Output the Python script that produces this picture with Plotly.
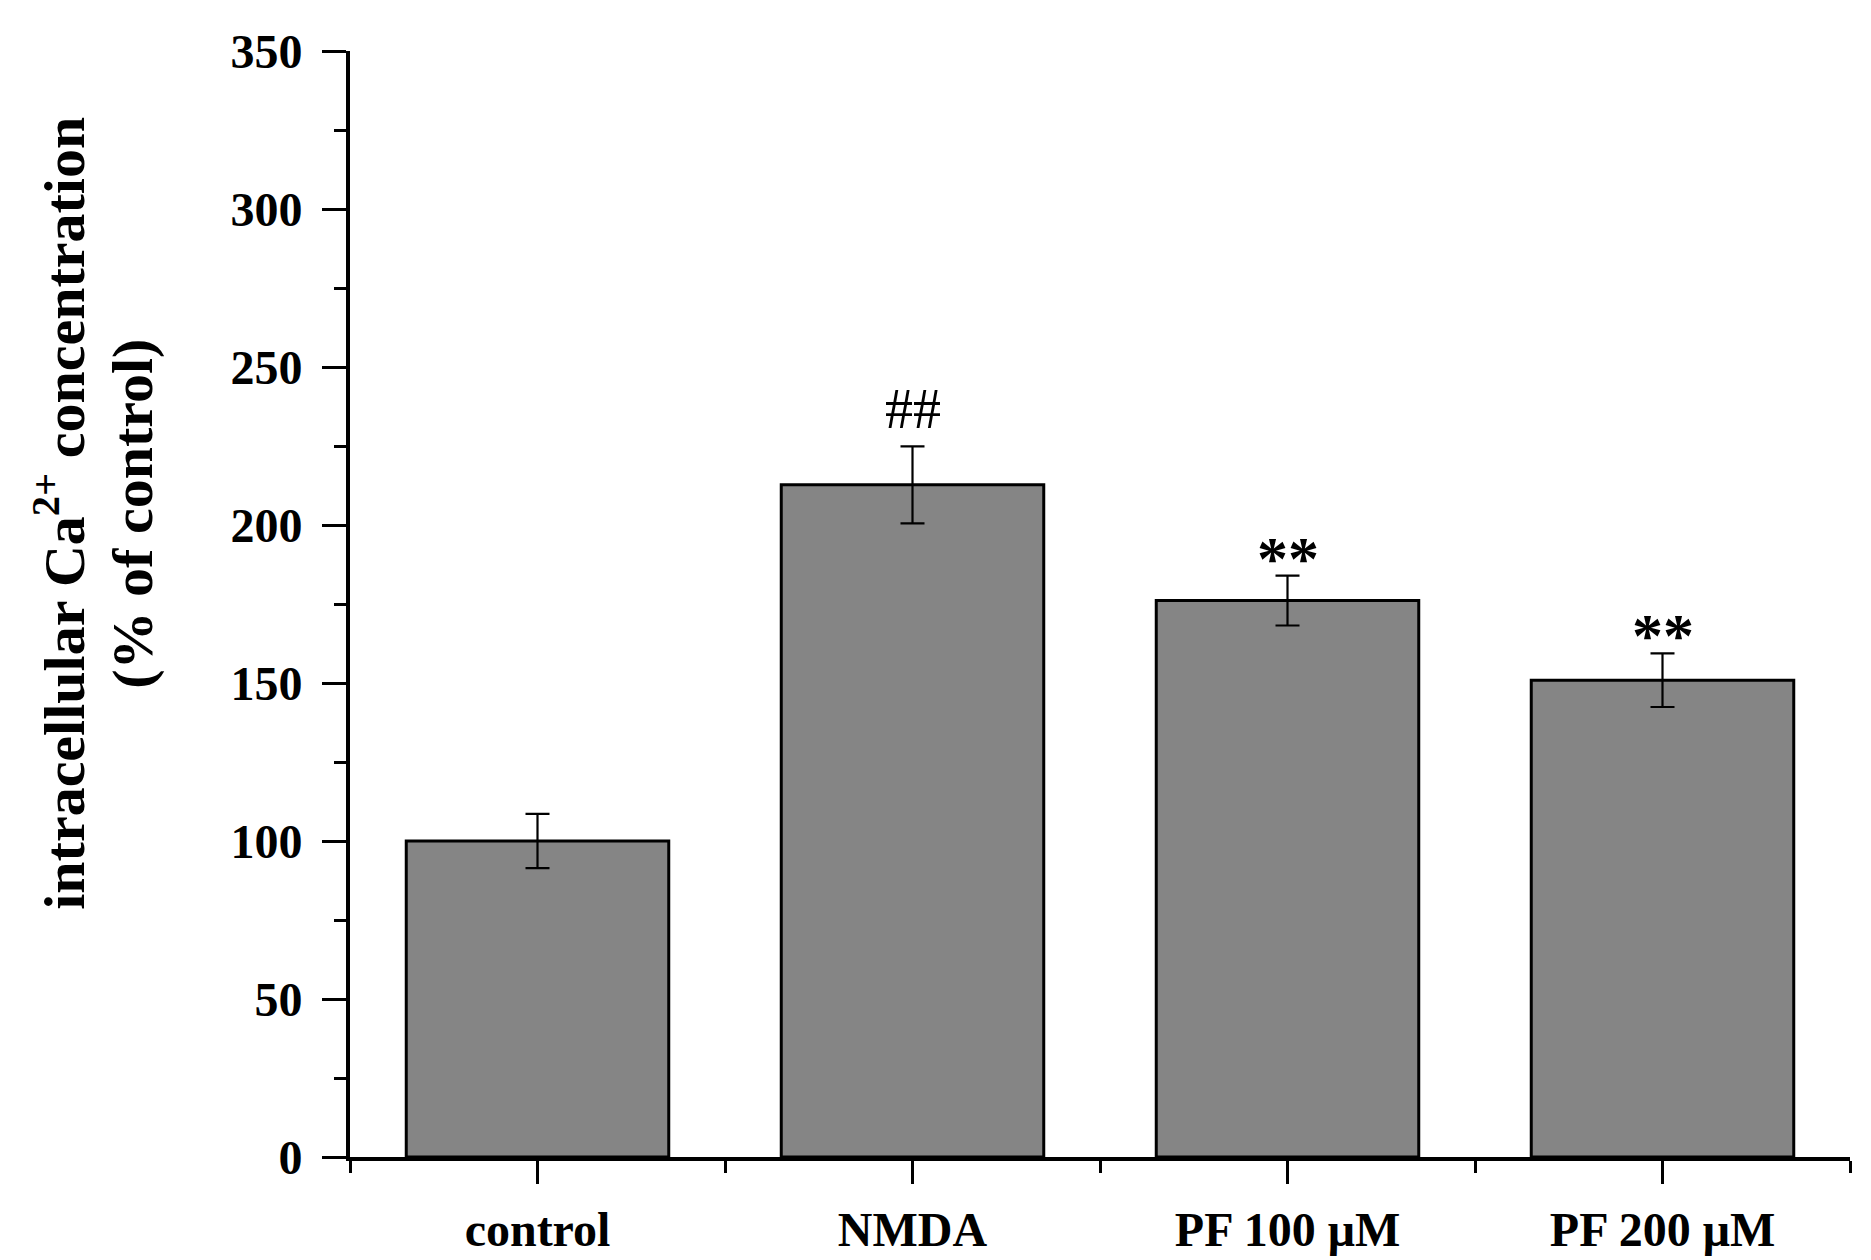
import plotly.graph_objects as go

categories = ["control", "NMDA", "PF 100 μM", "PF 200 μM"]
means = [100, 212.7, 176.1, 150.9]
errors = [8.6, 12.2, 7.9, 8.5]
marks = ["", "##", "**", "**"]
yticks = [0, 50, 100, 150, 200, 250, 300, 350]

FONT = "Liberation Serif"
xpos = list(range(len(categories)))

fig = go.Figure()
fig.add_trace(go.Bar(
    x=xpos, y=means, width=0.7,
    marker=dict(color="#858585", line=dict(color="black", width=3)),
    error_y=dict(type="data", array=errors, visible=True, color="black",
                 thickness=2.2, width=12),
))

for xi, m, e, s in zip(xpos, means, errors, marks):
    if not s:
        continue
    if s == "##":
        fig.add_annotation(x=xi, y=m + e, text=s, showarrow=False,
                           yanchor="bottom", yshift=4,
                           font=dict(family=FONT, size=56, color="black"))
    else:
        fig.add_annotation(x=xi, y=m + e, text="<b>%s</b>" % s, showarrow=False,
                           yanchor="bottom", yshift=-18,
                           font=dict(family=FONT, size=62, color="black"))

fig.add_annotation(xref="paper", yref="paper", x=-0.1933, y=0.5816,
                   xanchor="center", yanchor="middle", textangle=-90,
                   text="<b>intracellular Ca<sup>2+</sup> concentration</b>",
                   showarrow=False, font=dict(family=FONT, size=58, color="black"))
fig.add_annotation(xref="paper", yref="paper", x=-0.1447, y=0.5816,
                   xanchor="center", yanchor="middle", textangle=-90,
                   text="<b>(% of control)</b>",
                   showarrow=False, font=dict(family=FONT, size=58, color="black"))

fig.update_layout(
    width=1871, height=1260,
    margin=dict(l=342, r=29, t=43, b=108),
    plot_bgcolor="white", paper_bgcolor="white",
    showlegend=False,
    font=dict(family=FONT, color="black"),
)
fig.update_xaxes(
    range=[-0.5, 3.5], tickvals=xpos,
    ticktext=["<b>%s</b>" % c for c in categories],
    tickfont=dict(family=FONT, size=48, color="black"),
    showline=True, linecolor="black", linewidth=4,
    ticks="outside", ticklen=23, tickwidth=3, tickcolor="black",
    minor=dict(tickvals=[-0.5, 0.5, 1.5, 2.5, 3.5], ticks="outside", ticklen=12,
               tickwidth=3, tickcolor="black"),
    showgrid=False, zeroline=False, ticklabelstandoff=4,
)
fig.update_yaxes(
    range=[0, 350], tickvals=yticks,
    ticktext=["<b>%d</b>" % v for v in yticks],
    tickfont=dict(family=FONT, size=48, color="black"),
    showline=True, linecolor="black", linewidth=4,
    ticks="outside", ticklen=24, tickwidth=3, tickcolor="black",
    minor=dict(dtick=25, ticks="outside", ticklen=12, tickwidth=3, tickcolor="black",
               showgrid=False),
    showgrid=False, zeroline=False, ticklabelstandoff=10,
)

fig.write_html("out.html")
